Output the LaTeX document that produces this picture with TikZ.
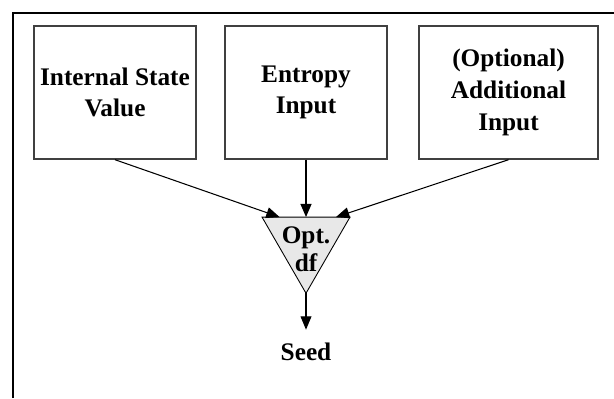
\documentclass[tikz,border=0pt]{standalone}
\usepackage{fontspec}
\setmainfont{Liberation Serif}
\usetikzlibrary{calc, shapes.geometric, arrows.meta}

\begin{document}
\begin{tikzpicture}[font=\bfseries\fontsize{14.4}{18}\selectfont,
			inbox/.style={draw=black!75, line width=0.8pt, minimum width=3.24cm, minimum height=2.66cm, align=center, inner sep=0pt},
			feed/.style={-{Triangle[length=7.6pt,width=6.2pt]}, line width=0.6pt}]
			\useasboundingbox (0,0) rectangle (12.28,7.96);
			\draw [line width=1pt] (0.26,0) -- (0.26,7.70) -- (12.28,7.70);
			\node (n1) [inbox] at (2.30,6.11) {Internal State\\Value};
			\node (n2) [inbox] at (6.12,6.11) {Entropy\\Input};
			\node (n3) [inbox, minimum width=3.58cm] at (10.17,6.11) {(Optional)\\Additional\\Input};
			\node (n4) [draw, fill=black!9, line width=0.5pt, regular polygon, regular polygon sides=3, shape border rotate=180, minimum size=2.03cm, inner sep=0pt, outer sep=0pt, label={[yshift=-0.13cm, align=center, font=\bfseries\fontsize{14.4}{16}\selectfont]center:{Opt.\\df}}] at (6.12,3.11) {};
			\node (n5) [minimum height=0.88cm] at (6.12,0.92) {Seed};
			\draw [feed] (n1.south) -> ($(n4.corner 3)!0.2!(n4.corner 2)$);
			\draw [feed, line width=1.1pt] (n2.south) -> (n4.north);
			\draw [feed] (n3.south) -> ($(n4.corner 3)!0.84!(n4.corner 2)$);
			\draw [feed] (n4.corner 1) -> (n5);
		\end{tikzpicture}
\end{document}
